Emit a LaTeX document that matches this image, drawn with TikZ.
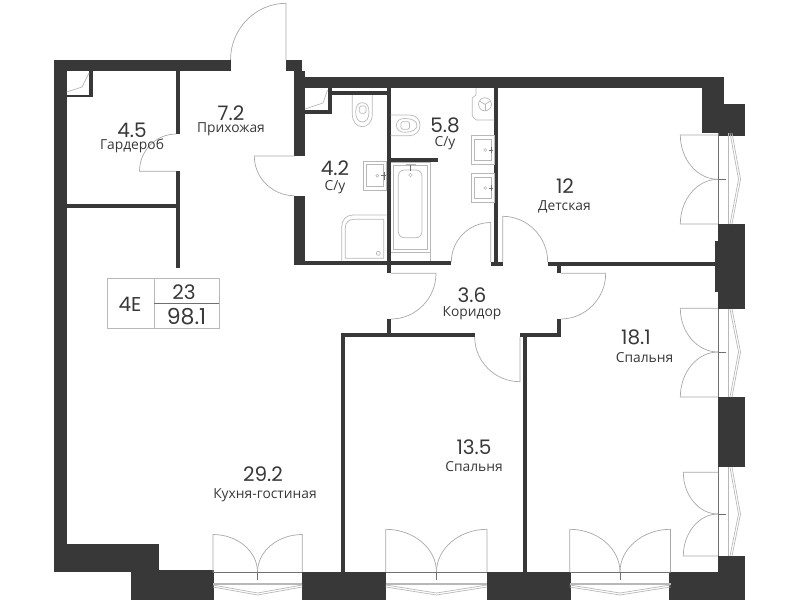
\documentclass[tikz,border=0pt]{standalone}
\usepackage{fontspec}
\usetikzlibrary{calc}
\setmainfont{Open Sans}
\newfontfamily\numf{Poppins}
\definecolor{wallc}{HTML}{383838}
\definecolor{fixc}{HTML}{B8B8B8}
\definecolor{doorc}{HTML}{A8A8A8}
\definecolor{glassc}{HTML}{707070}
\tikzset{
 wall/.style={fill=wallc,draw=none},
 fix/.style={draw=fixc,line width=.7pt},
 doorleaf/.style={draw=doorc,line width=.7pt},
 glass/.style={draw=glassc,line width=.8pt},
 numlab/.style={text=wallc,font=\numf\fontsize{20}{20}\selectfont,inner sep=0pt},
 namelab/.style={text=wallc,font=\fontsize{13.8}{14}\selectfont,inner sep=0pt},
}
% hinge, tip, end
\def\dooR#1#2#3#4#5#6{%
 \draw[doorleaf] (#1,#2) -- (#3,#4) .. controls ($(#3,#4)!.55!($(#3,#4)+(#5,#6)-(#1,#2)$)$) and ($(#5,#6)!.55!($(#3,#4)+(#5,#6)-(#1,#2)$)$) .. (#5,#6);}
% bottom window: left x, mid x, right x, top of leaf
\def\botwin#1#2#3#4{%
 \draw[glass] (#1,572) -- (#3,572);
 \dooR{#1}{572}{#1}{#4}{#2}{572}
 \dooR{#3}{572}{#3}{#4}{#2}{572}
 \draw[draw=glassc,line width=.8pt] (#2,572) -- (#2,580);
 \draw[fixc,line width=1.6pt] (#1,584) -- (#3,584);
 \draw[fixc,line width=.7pt] (#1,585) -- (#2,593) -- (#3,585);
 \draw[fixc,line width=.7pt] (#1,587) -- (#2,595) -- (#3,587);
}
% right window: top y, mid y, bottom y, left of leaf
\def\sidewin#1#2#3#4#5#6{%
 \draw[glass] (718.3,#1) -- (718.3,#3);
 \dooR{718}{#5}{#4}{#5}{718}{#2}
 \dooR{718}{#6}{#4}{#6}{718}{#2}
 \draw[draw=glassc,line width=.8pt] (718,#2) -- (725.5,#2);
 \draw[fixc,line width=1pt] (728.7,#1) -- (728.7,#3);
 \draw[fixc,line width=.7pt] (730,#1) -- (738.5,#2) -- (730,#3);
 \draw[fixc,line width=.7pt] (732,#1) -- (740.5,#2) -- (732,#3);
}
\def\sink#1#2{% top-left x,y of outer
 \draw[fix] (#1,#2) rectangle ++(22.6,29.3);
 \draw[fix] ($(#1,#2)+(3,3.7)$) rectangle ++(16.4,21.8);
 \draw[draw=fixc,line width=.6pt] ($(#1,#2)+(13.5,14.7)$) circle (1.5);
 \draw[draw=glassc,line width=.8pt] ($(#1,#2)+(17,14.7)$) -- ++(4,0);
 \draw[draw=glassc,line width=.8pt] ($(#1,#2)+(20,11.5)$) -- ++(0,6.5);
}
\begin{document}
\begin{tikzpicture}[x=1pt,y=-1pt]
\useasboundingbox (0,0) rectangle (800,600);
% exterior walls
\fill[wall] (54,60) rectangle (230.5,71);
\fill[wall] (54,60) rectangle (66.5,544);
\fill[wall] (54,544) rectangle (159,572);
\fill[wall] (131,572) rectangle (214,600);
\fill[wall] (159,570) rectangle (214,600);
\fill[wall] (286,60) rectangle (302,71);
\fill[wall] (294.3,71) rectangle (305.3,156);
\fill[wall] (294.3,60) rectangle (302,77);
\fill[wall] (294.3,195.7) rectangle (305.3,265.3);
\fill[wall] (302,77) rectangle (702,88);
\fill[wall] (702,77) rectangle (724,133);
\fill[wall] (702,104) rectangle (718,133);
\fill[wall] (718,104) rectangle (745,135.7);
\fill[wall] (718,224) rectangle (745,309);
\fill[wall] (715,240.7) rectangle (745,291.7);
\fill[wall] (718,396.7) rectangle (745,467.3);
\fill[wall] (718,556) rectangle (745,600);
\fill[wall] (669.3,572.3) rectangle (745,600);
\fill[wall] (487,572.3) rectangle (570.7,600);
\fill[wall] (302.3,572.3) rectangle (386,600);
% interior walls
\fill[wall] (176,71) rectangle (180,134);
\fill[wall] (176,171.3) rectangle (180,268);
\fill[wall] (66,204) rectangle (176,208);
\fill[wall] (89.3,71) rectangle (93.3,97.3);
\fill[wall] (66,94.7) rectangle (93.3,97.3);
\fill[wall] (386.7,88) rectangle (390.7,273.3);
\fill[wall] (331.7,91) rectangle (386.7,95);
\fill[wall] (327.7,88) rectangle (331.7,114);
\fill[wall] (305,110) rectangle (331.7,114);
\fill[wall] (305,261.3) rectangle (451.3,265.3);
\fill[wall] (390,158) rectangle (437.7,161.7);
\fill[wall] (494.3,88) rectangle (498.3,265);
\fill[wall] (490.7,261.5) rectangle (502.7,265.5);
\fill[wall] (547.7,262) rectangle (715,265.7);
\fill[wall] (556.7,262) rectangle (560.7,273.3);
\fill[wall] (387.3,319) rectangle (391,337);
\fill[wall] (341.3,333) rectangle (474.7,337);
\fill[wall] (341.3,333) rectangle (345.3,572);
\fill[wall] (520,333) rectangle (560.7,337);
\fill[wall] (556.7,319) rectangle (560.7,337);
\fill[wall] (523.3,337) rectangle (527.3,572);
% doors
\dooR{286}{60}{286}{3.3}{230.5}{60}
\dooR{176}{171.3}{139.5}{171.3}{176}{134}
\dooR{294.3}{156}{254.3}{156}{294.3}{195.7}
\dooR{490.7}{262}{490.7}{222.5}{451.3}{262}
\dooR{502.7}{262}{502.7}{216.3}{547.7}{262}
\dooR{391}{273.3}{436}{273.3}{391}{319}
\dooR{560.7}{273.3}{605.7}{273.3}{560.7}{319}
\dooR{520}{337}{520}{381.7}{474.7}{337}
% windows
\botwin{213}{257.5}{302.3}{534.5}
\botwin{385.7}{436.5}{487}{529.3}
\botwin{569.7}{620}{670.5}{529.3}
\sidewin{133}{179.3}{224}{680.3}{135}{224}
\sidewin{309}{352}{397}{680.3}{308.3}{397}
\sidewin{467.3}{514}{556}{683.3}{472.3}{556}
% closet corners
\draw[fix] (66.7,92) -- (82,87) -- (89,73);
\draw[fix] (305,109) -- (323,103) -- (327.5,90);
% toilet 4.2
\draw[fix] (352.3,95) -- (352.3,114) .. controls (352.3,122) and (357,126.7) .. (362.3,126.7) .. controls (367.6,126.7) and (372.3,122) .. (372.3,114) -- (372.3,95);
\draw[fix] (355.7,112) .. controls (355.7,106) and (358,102.7) .. (362.3,102.7) .. controls (366.6,102.7) and (369,106) .. (369,112) .. controls (369,118) and (366.6,122) .. (362.3,122) .. controls (358,122) and (355.7,118) .. (355.7,112) -- cycle;
\draw[fix,rounded corners=1.5pt] (359.3,106) rectangle (366,113.3);
% toilet 5.8
\draw[fix] (390.7,115) -- (409,115) .. controls (416,115) and (420,119.5) .. (420,125.3) .. controls (420,131) and (416,135.7) .. (409,135.7) -- (390.7,135.7);
\draw[fix] (405,118.5) .. controls (412,118.5) and (417,121) .. (417,125.3) .. controls (417,129.5) and (412,132.3) .. (405,132.3) .. controls (399,132.3) and (396.5,129.5) .. (396.5,125.3) .. controls (396.5,121) and (399,118.5) .. (405,118.5) -- cycle;
\draw[fix,rounded corners=1.5pt] (401,121.7) rectangle (409.5,129.3);
% sink 4.2
\draw[fix] (363.3,161.3) rectangle (386.7,190.3);
\draw[fix] (366.3,164.7) rectangle (383,186.7);
\draw[draw=fixc,line width=.6pt] (377.3,175.7) circle (1.5);
\draw[draw=glassc,line width=.8pt] (381,175.7) -- (386,175.7);
\draw[draw=glassc,line width=.8pt] (384.5,172) -- (384.5,179.5);
% shower
\draw[fix] (341.7,261) -- (341.7,227) .. controls (341.7,220) and (346,215) .. (353,215) -- (386.7,215);
\draw[fix] (345.3,258.3) -- (345.3,228) .. controls (345.3,222.5) and (348.5,219.3) .. (354,219.3) -- (383.7,219.3) -- (383.7,258.3) -- cycle;
\draw[fix] (378.3,253.3) circle (2);
% bath
\draw[fix] (391,162.7) -- (430.7,162.7) -- (430.7,261.3);
\draw[fix] (393.3,165) rectangle (427.7,249);
\draw[fix,rounded corners=6pt] (398.3,170) rectangle (422,237.7);
\draw[fix] (391,252.3) -- (430.7,252.3);
\draw[draw=glassc,line width=1pt] (410.5,164) -- (410.5,171);
\draw[draw=fixc,line width=1pt] (405.5,164) -- (415.5,164);
\draw[draw=fixc,line width=.6pt] (410.5,175) circle (1.8);
% fixture
\draw[fix] (494.3,120) -- (476,120) -- (472.3,116) -- (472.3,98) -- (476,95) -- (476,88);
\draw[fix] (485,104.3) circle (6.5);
\draw[fix] (485,104.3) -- (485,110.8);
\draw[fix] (485,104.3) -- (479.4,101);
\draw[fix] (485,104.3) -- (490.6,101);
% sinks 5.8
\sink{471.7}{135.3}
\sink{471.7}{173.3}
% table
\draw[fixc,line width=.8pt] (107.3,278.3) rectangle (219.3,328.3);
\draw[fixc,line width=.8pt] (154.3,278.3) -- (154.3,328.3);
\draw[glassc,line width=.7pt] (154.3,303.3) -- (219.3,303.3);
\node[numlab] (tabA) at (130,304.5) {4E};
\node[numlab] (tabB) at (184,292) {23};
\node[numlab,font=\numf\fontsize{22}{22}\selectfont] (tabC) at (186.5,317) {98.1};
% labels
\node[numlab] (n1) at (132,130) {4.5};
\node[namelab] (l1) at (132,146) {Гардероб};
\node[numlab] (n2) at (231,113) {7.2};
\node[namelab] (l2) at (231,129.5) {Прихожая};
\node[numlab] (n3) at (335,168) {4.2};
\node[namelab] (l3) at (335,187) {С/у};
\node[numlab] (n4) at (445,125) {5.8};
\node[namelab] (l4) at (445,143) {С/у};
\node[numlab] (n5) at (565,186) {12};
\node[namelab] (l5) at (564.5,206.5) {Детская};
\node[numlab] (n6) at (472,295) {3.6};
\node[namelab] (l6) at (472,313.5) {Коридор};
\node[numlab] (n7) at (636,337) {18.1};
\node[namelab] (l7) at (644.5,357.5) {Спальня};
\node[numlab] (n8) at (474,447) {13.5};
\node[namelab] (l8) at (474,466.5) {Спальня};
\node[numlab] (n9) at (263,474) {29.2};
\node[namelab] (l9) at (265,495.5) {Кухня-гостиная};
\end{tikzpicture}
\end{document}
